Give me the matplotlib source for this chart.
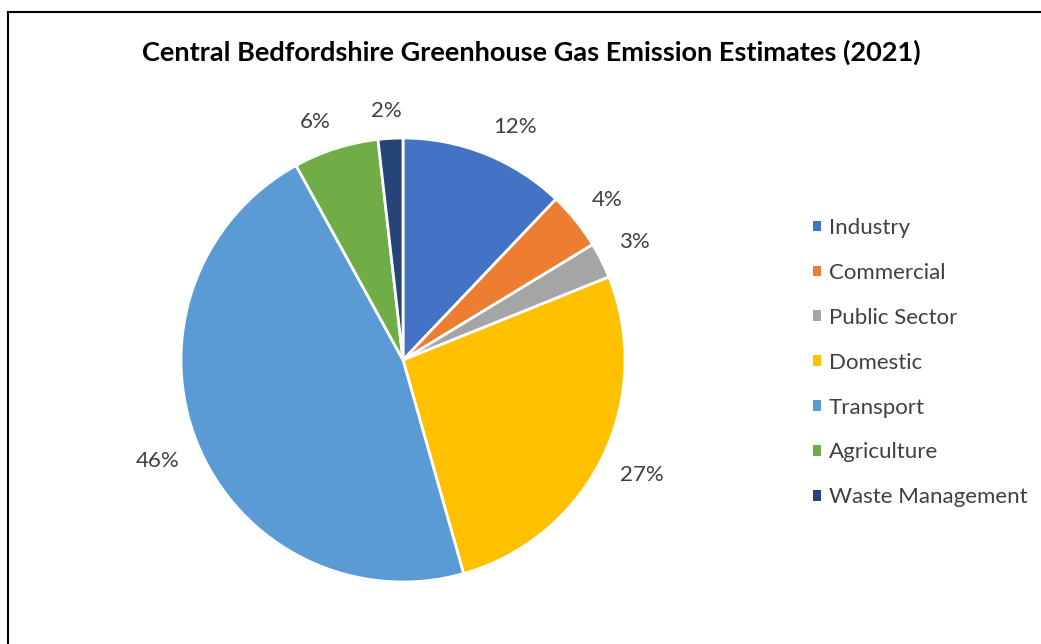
import numpy as np
import matplotlib.pyplot as plt
from matplotlib.lines import Line2D

# Data (share of total emissions, %)
sectors = ["Industry", "Commercial", "Public Sector", "Domestic",
           "Transport", "Agriculture", "Waste Management"]
shares = [12.1, 4.2, 2.6, 26.7, 46.4, 6.2, 1.8]
colours = ["#4472C4", "#ED7D31", "#A5A5A5", "#FFC000",
           "#5B9BD5", "#70AD47", "#264478"]

W, H = 1041, 644
fig = plt.figure(figsize=(W / 100, H / 100), dpi=100)
plt.rcParams['font.family'] = ['Lato', 'DejaVu Sans']
TXT = "#404040"

# frame around chart area (runs off right and bottom edges)
fig.add_artist(Line2D([8 / W, 1.0], [1 - 12 / H, 1 - 12 / H], transform=fig.transFigure,
                      color="black", lw=1.5))
fig.add_artist(Line2D([8 / W, 8 / W], [0, 1 - 12 / H], transform=fig.transFigure,
                      color="black", lw=1.5))

fig.text(531 / W, 1 - 52 / H,
         "Central Bedfordshire Greenhouse Gas Emission Estimates (2021)",
         ha="center", va="center", fontsize=19.5, fontweight="bold", color="black")

cx, cy, r = 403, 360, 222
ax = fig.add_axes([(cx - r) / W, (H - cy - r) / H, 2 * r / W, 2 * r / H])
wedges, _ = ax.pie(shares, colors=colours, startangle=90, counterclock=False,
                   wedgeprops=dict(edgecolor="white", linewidth=2))
ax.set_xlim(-1, 1)
ax.set_ylim(-1, 1)
ax.set_aspect("equal")

# outside-end labels: box sits just outside the rim, like Excel
total = sum(shares)
cum = np.cumsum([0] + shares)
labels = []
for i, v in enumerate(shares):
    th = np.radians((cum[i] + v / 2) / total * 360)  # clockwise from top
    s, c = np.sin(th), np.cos(th)
    t = ax.text(1.09 * s, 1.08 * c, f"{v / total * 100:.0f}%", ha="center",
                va="center", fontsize=16, color=TXT)
    labels.append((t, s, c))
fig.canvas.draw()
for t, s, c in labels:
    bb = t.get_window_extent()
    dx = bb.width / 2 * np.clip(3 * s, -1, 1) / r
    dy = bb.height / 2 * np.clip(3 * c, -1, 1) / r
    x, y = t.get_position()
    t.set_position((x + dx, y + dy))

leg = fig.legend(wedges, sectors, loc="upper left",
                 bbox_to_anchor=(813 / W, 1 - 218 / H), frameon=False,
                 fontsize=16, labelcolor=TXT,
                 handlelength=0.36, handleheight=0.36, handletextpad=0.36,
                 labelspacing=1.12, borderpad=0, borderaxespad=0)
for h in leg.legend_handles:
    h.set_edgecolor("none")

fig.savefig("out.png", dpi=100, facecolor="white")
